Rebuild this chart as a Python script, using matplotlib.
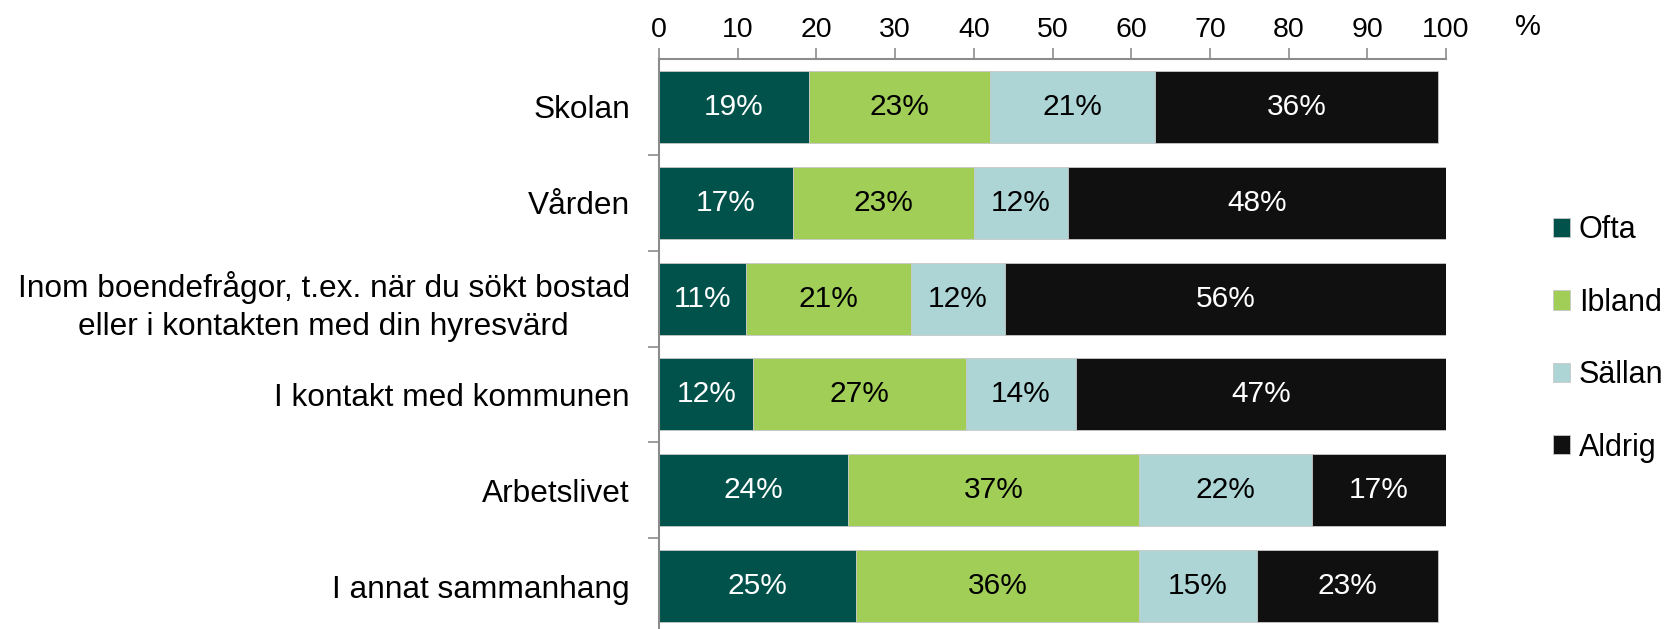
import numpy as np
import matplotlib
matplotlib.use('Agg')
import matplotlib.pyplot as plt

plt.rcParams['font.family'] = ['Liberation Sans', 'DejaVu Sans']

categories = ["Skolan", "Vården",
              "Inom boendefrågor, t.ex. när du sökt bostad\neller i kontakten med din hyresvärd",
              "I kontakt med kommunen", "Arbetslivet", "I annat sammanhang"]
series = ["Ofta", "Ibland", "Sällan", "Aldrig"]
ofta = [19, 17, 11, 12, 24, 25]
ibland = [23, 23, 21, 27, 37, 36]
sallan = [21, 12, 12, 14, 22, 15]
aldrig = [36, 48, 56, 47, 17, 23]

colors = ["#01524b", "#a1ce57", "#aed5d6", "#101010"]
text_colors = ["white", "black", "black", "white"]
axis_grey = "#8c8c8c"

fig = plt.figure(figsize=(16.69, 6.29), dpi=100)
ax = fig.add_axes([659 / 1669, -5 / 629, 787 / 1669, 575 / 629])

y = np.arange(len(categories))
left = np.zeros(len(categories))
for name, vals, col, tcol in zip(series, [ofta, ibland, sallan, aldrig], colors, text_colors):
    vals = np.array(vals, dtype=float)
    bars = ax.barh(y, vals, left=left, height=0.75, color=col, label=name,
                   edgecolor="#c8c8c8", linewidth=0.6)
    for b, v in zip(bars, vals):
        ax.text(b.get_x() + b.get_width() / 2, b.get_y() + b.get_height() / 2,
                "%d%%" % v, ha="center", va="center", color=tcol, fontsize=21.5)
    left += vals

ax.set_xlim(0, 100)
ax.set_ylim(len(categories) - 0.5, -0.5)
ax.xaxis.tick_top()
ax.set_xticks(np.arange(0, 101, 10))
ax.tick_params(axis="x", direction="out", length=8, width=1.2, color=axis_grey,
               labelsize=20.5, pad=3.5)
ax.set_yticks(y)
ax.set_yticklabels(categories, fontsize=22.8, linespacing=1.35)
ax.set_yticks(np.arange(len(categories)) + 0.5, minor=True)
ax.tick_params(axis="y", which="major", length=0, pad=21)
ax.tick_params(axis="y", which="minor", direction="out", length=8, width=1.2, color=axis_grey)
for lab in ax.get_yticklabels():
    lab.set_multialignment("center")

for s in ["right", "bottom"]:
    ax.spines[s].set_visible(False)
for s in ["top", "left"]:
    ax.spines[s].set_color(axis_grey)
    ax.spines[s].set_linewidth(1.5)

ax.text(1.104, 1.031, "%", transform=ax.transAxes, fontsize=21, ha="center", va="bottom")

leg = ax.legend(loc="center left", bbox_to_anchor=(1.12, 0.513), frameon=False,
                fontsize=22, handlelength=0.58, handleheight=0.58, handletextpad=0.27,
                labelspacing=1.39, borderaxespad=0)

fig.savefig("out.png", dpi=100)
